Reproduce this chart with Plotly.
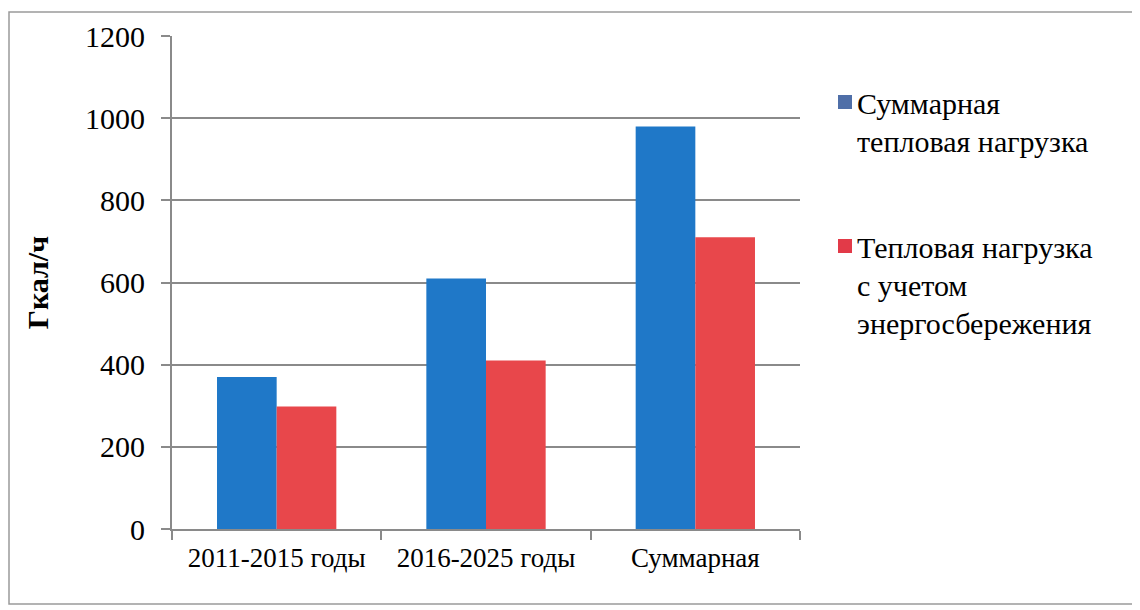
import plotly.graph_objects as go

categories = ["2011-2015 годы", "2016-2025 годы", "Суммарная"]
series_names = ["Суммарная<br>тепловая нагрузка", "Тепловая нагрузка<br>с учетом<br>энергосбережения"]
total_load = [370, 610, 980]
saving_load = [298, 410, 710]
y_ticks = [0, 200, 400, 600, 800, 1000, 1200]

FONT = "Liberation Serif"
OFF = 8  # page body margin

W, H = 1140, 610
SL, SR, ST, SB = 172, 800, 36, 529
L, T = SL - OFF, ST - OFF
R = W - (SR - OFF)
B = H - (SB - OFF)
pw, ph = W - L - R, H - T - B


def px(x):
    return (x - OFF - L) / pw


def py(y):
    return (SB - y) / ph


bar_colors = ["#1f78c8", "#e8474b"]
key_colors = ["#4f6fa8", "#e23a48"]

fig = go.Figure()
fig.add_trace(go.Bar(x=categories, y=total_load, name=series_names[0].replace("<br>", " "),
                     marker=dict(color=bar_colors[0], line=dict(width=0))))
fig.add_trace(go.Bar(x=categories, y=saving_load, name=series_names[1].replace("<br>", " "),
                     marker=dict(color=bar_colors[1], line=dict(width=0))))
# helper so the key axis on the right is drawn
fig.add_trace(go.Scatter(x=[], y=[], yaxis="y2", showlegend=False, hoverinfo="skip"))

# legend key: text lines drawn as labels of a right-hand helper axis (serif like the rest)
legend_first_line = [103, 247]
line_h = 38
key_vals, key_text = [], []
shapes = [dict(type="rect", xref="paper", yref="paper",
               x0=px(9), x1=px(1136), y0=py(604), y1=py(12),
               line=dict(color="#9a9a9a", width=1.5), layer="below")]
for name, yl, kc in zip(series_names, legend_first_line, key_colors):
    for i, line in enumerate(name.split("<br>")):
        key_vals.append(py(yl + i * line_h))
        key_text.append(line)
    shapes.append(dict(type="rect", xref="paper", yref="paper",
                       x0=px(838), x1=px(852), y0=py(yl + 6), y1=py(yl - 8),
                       fillcolor=kc, line=dict(width=0)))

fig.update_layout(
    width=W, height=H,
    margin=dict(l=L, r=R, t=T, b=B, pad=0),
    paper_bgcolor="white", plot_bgcolor="white",
    barmode="group", bargap=0.43, bargroupgap=0,
    font=dict(family=FONT, size=27, color="black"),
    showlegend=False,
    xaxis=dict(showline=True, linecolor="#8a8a8a", linewidth=2,
               ticks="outside", tickson="boundaries", ticklen=9, tickcolor="#8a8a8a",
               tickwidth=2, showgrid=False, ticklabelstandoff=4,
               tickfont=dict(family=FONT, size=27, color="black")),
    yaxis=dict(range=[0, 1200], tickvals=y_ticks, showline=True, linecolor="#8a8a8a",
               linewidth=2, ticks="outside", ticklen=9, tickcolor="#8a8a8a", tickwidth=2,
               showgrid=True, gridcolor="#8a8a8a", gridwidth=2, zeroline=False,
               ticklabelstandoff=10,
               tickfont=dict(family=FONT, size=30, color="black"),
               title=dict(text="<b>Гкал/ч</b>", font=dict(family=FONT, size=30, color="black"),
                          standoff=28)),
    yaxis2=dict(overlaying="y", side="right", anchor="free", position=1,
                range=[0, 1], tickmode="array", tickvals=key_vals, ticktext=key_text,
                showline=False, showgrid=False, zeroline=False, ticks="",
                ticklabelstandoff=56, fixedrange=True,
                tickfont=dict(family=FONT, size=30, color="black")),
    shapes=shapes,
)

fig.write_html("out.html")
